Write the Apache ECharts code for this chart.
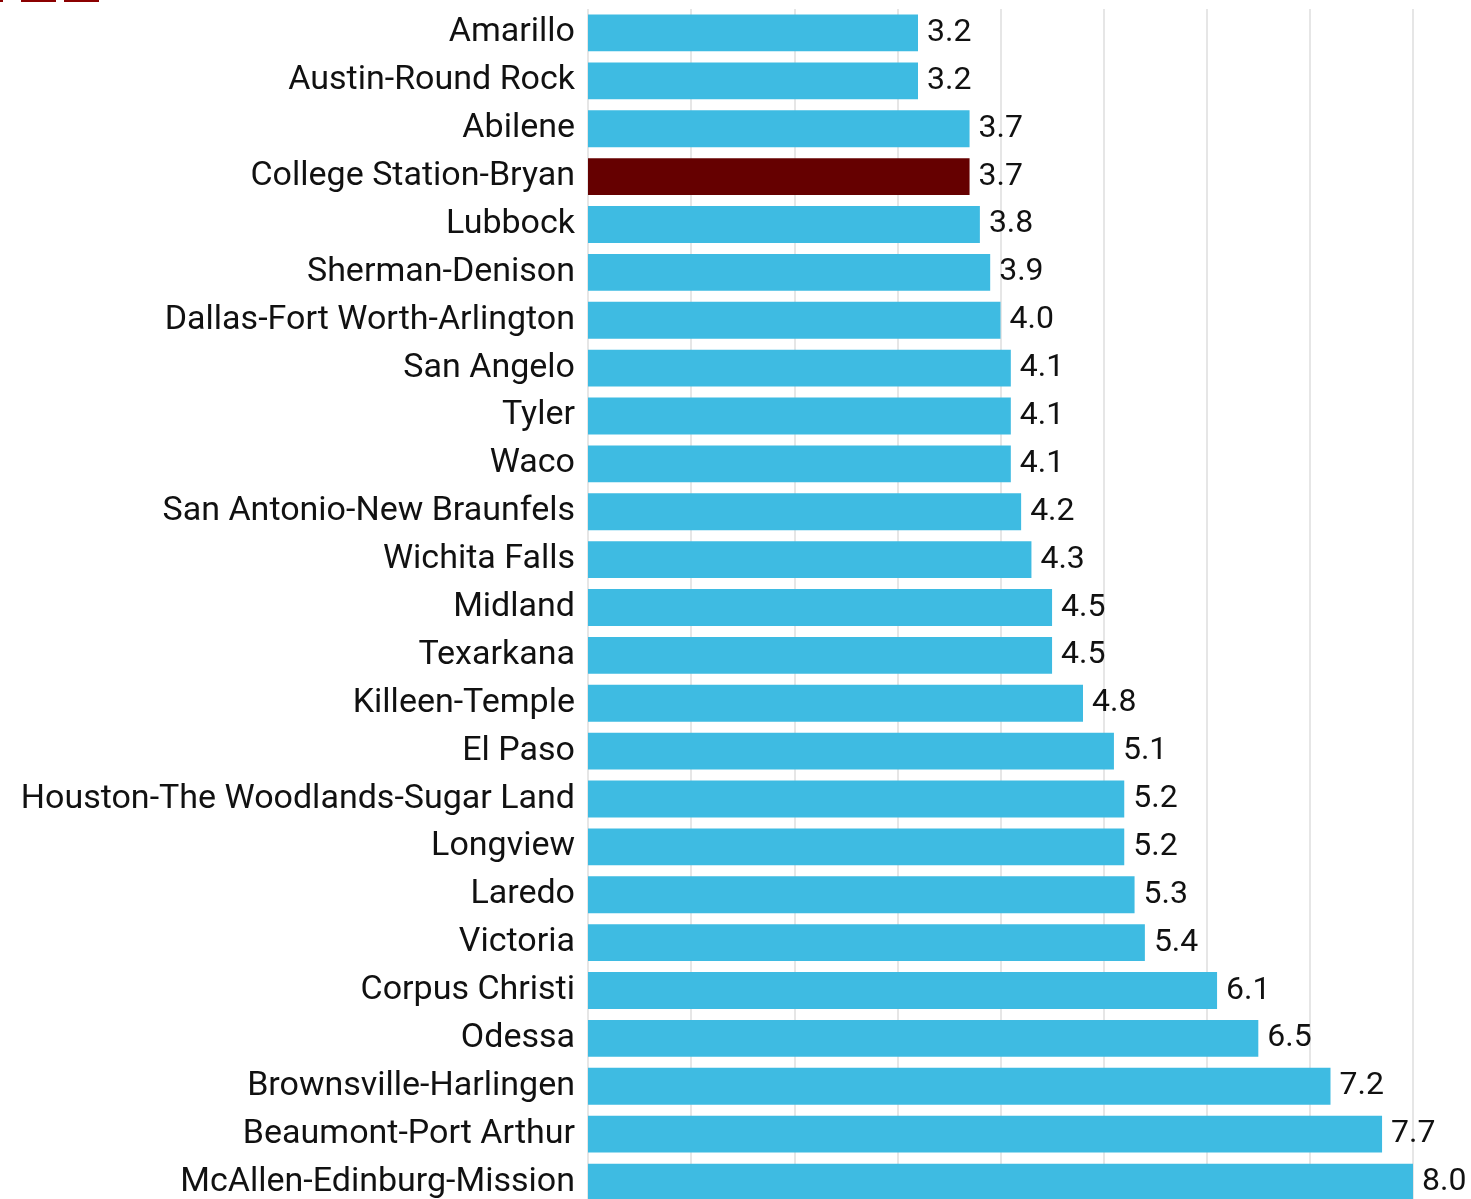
<!DOCTYPE html>
<html><head><meta charset="utf-8">
<script src="https://cdn.jsdelivr.net/npm/echarts@6/dist/echarts.min.js"></script>
<style>html,body{margin:0;padding:0;background:#fff}#c{width:1471px;height:1199px}</style>
</head><body><div id="c"></div>
<script>
const categories = ["Amarillo","Austin-Round Rock","Abilene","College Station-Bryan","Lubbock","Sherman-Denison","Dallas-Fort Worth-Arlington","San Angelo","Tyler","Waco","San Antonio-New Braunfels","Wichita Falls","Midland","Texarkana","Killeen-Temple","El Paso","Houston-The Woodlands-Sugar Land","Longview","Laredo","Victoria","Corpus Christi","Odessa","Brownsville-Harlingen","Beaumont-Port Arthur","McAllen-Edinburg-Mission"];
const values = [3.2,3.2,3.7,3.7,3.8,3.9,4.0,4.1,4.1,4.1,4.2,4.3,4.5,4.5,4.8,5.1,5.2,5.2,5.3,5.4,6.1,6.5,7.2,7.7,8.0];
const highlight = "College Station-Bryan";

const chart = echarts.init(document.getElementById('c'));
const font = 'Roboto, "Noto Sans", sans-serif';
chart.setOption({
  animation: false,
  graphic: [
    {type:'rect', shape:{x:0,y:0,width:3,height:2}, style:{fill:'#8b0000'}},
    {type:'rect', shape:{x:21,y:0,width:35,height:2}, style:{fill:'#8b0000'}},
    {type:'rect', shape:{x:64,y:0,width:35,height:2}, style:{fill:'#8b0000'}}
  ],
  grid: {left: 588, right: 58, top: 9, height: 1197, outerBoundsMode: 'none', containLabel: false},
  xAxis: {
    type: 'value', min: 0, max: 8, interval: 1,
    axisLabel: {show: false}, axisLine: {show: false}, axisTick: {show: false},
    splitLine: {show: true, lineStyle: {color: '#e6e6e6', width: 2}}
  },
  yAxis: {
    type: 'category', data: categories, inverse: true,
    axisLine: {show: false}, axisTick: {show: false},
    axisLabel: {fontSize: 34, color: '#111', fontFamily: font, margin: 13}
  },
  series: [{
    type: 'bar', barCategoryGap: '23%',
    data: values.map((v, i) => ({value: v, itemStyle: {color: categories[i] === highlight ? '#650000' : '#3ebbe2'}})),
    label: {show: true, position: 'right', distance: 9, fontSize: 32, color: '#111', fontFamily: font,
      formatter: p => p.value.toFixed(1)}
  }]
});
</script></body></html>
